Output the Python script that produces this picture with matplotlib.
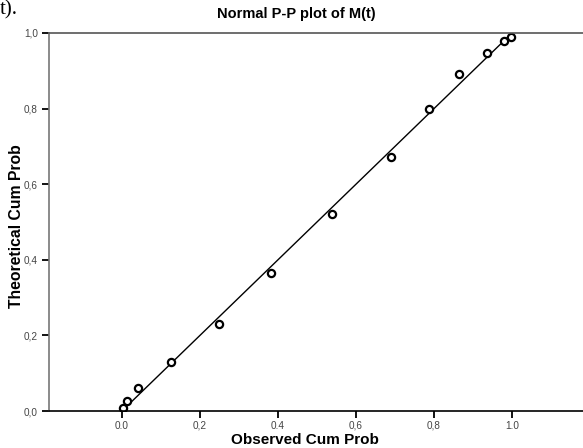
import matplotlib
matplotlib.use("Agg")
import matplotlib.pyplot as plt

# observed vs theoretical cumulative probabilities
obs_prob = [0.003, 0.013, 0.042, 0.125, 0.25, 0.383, 0.538, 0.69, 0.787, 0.864, 0.935, 0.979, 0.997]
theo_prob = [0.008, 0.027, 0.062, 0.13, 0.23, 0.365, 0.52, 0.672, 0.799, 0.891, 0.947, 0.979, 0.99]
line_x = [0.0, 1.0]
line_y = [0.0, 1.0]

x_ticks = [0.0, 0.2, 0.4, 0.6, 0.8, 1.0]
x_tick_labels = ["0.0", "0,2", "0.4", "0,6", "0,8", "1.0"]
y_ticks = [0.0, 0.2, 0.4, 0.6, 0.8, 1.0]
y_tick_labels = ["0,0", "0,2", "0,4", "0,6", "0,8", "1,0"]

plt.rcParams["font.family"] = ["Liberation Sans", "DejaVu Sans"]

fig = plt.figure(figsize=(5.83, 4.48), dpi=100)
ax = fig.add_axes([49 / 583, 37 / 448, 1 - 49 / 583, 378 / 448])

ax.plot(line_x, line_y, color="black", lw=1.0)
ax.plot(obs_prob, theo_prob, linestyle="none", marker="o", ms=5.2,
        mfc="white", mec="black", mew=1.6)

ax.set_xlim(-0.187, 1.182)
ax.set_ylim(0.0, 1.0)
ax.set_xticks(x_ticks)
ax.set_xticklabels(x_tick_labels, fontsize=7.2, color="#444444")
ax.set_yticks(y_ticks)
ax.set_yticklabels(y_tick_labels, fontsize=7.2, color="#444444")
ax.tick_params(axis="both", length=5, width=1.3, color="black", pad=3)
ax.tick_params(axis="x", pad=2)

ax.spines["right"].set_visible(False)
ax.spines["top"].set_color("#555555")
ax.spines["top"].set_linewidth(1.2)
ax.spines["left"].set_color("#777777")
ax.spines["left"].set_linewidth(1.2)
ax.spines["bottom"].set_color("black")
ax.spines["bottom"].set_linewidth(1.2)

fig.text(296 / 583, 1 - 14 / 448, "Normal P-P plot of M(t)", ha="center", va="center",
         fontsize=10.5, fontweight="bold")
fig.text(305 / 583, 1 - 440 / 448, "Observed Cum Prob", ha="center", va="center",
         fontsize=11, fontweight="bold")
fig.text(17 / 583, 1 - 226 / 448, "Theoretical Cum Prob", ha="center", va="center",
         fontsize=11.3, fontweight="bold", rotation=90)
fig.text(0.0, 1.0, "t).", ha="left", va="top", fontsize=15,
         family=["Liberation Serif", "DejaVu Serif"])

fig.savefig("out.png", dpi=100)
